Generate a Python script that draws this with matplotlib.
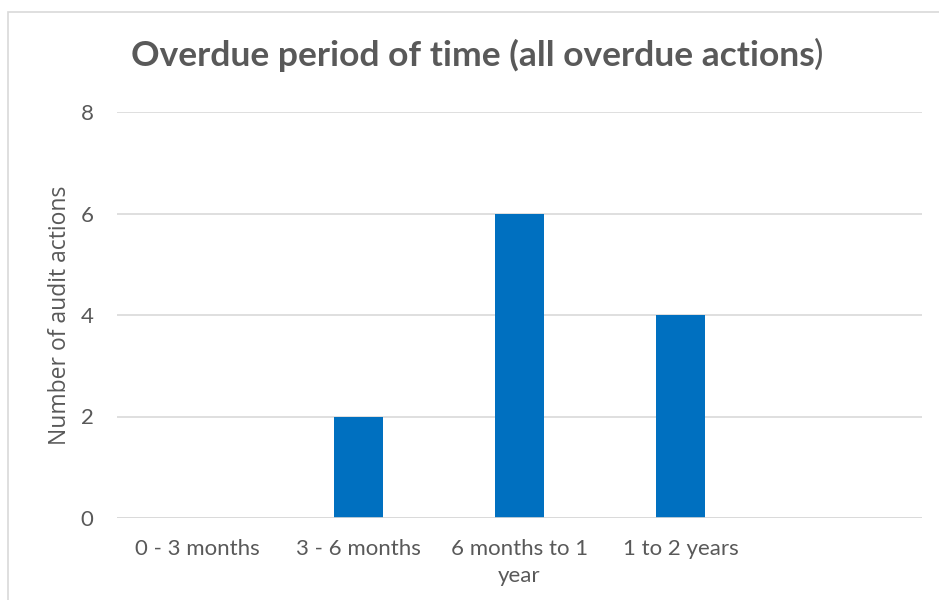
import matplotlib
matplotlib.use("Agg")
import matplotlib.pyplot as plt
from matplotlib.patches import Rectangle

categories = ["0 - 3 months", "3 - 6 months", "6 months to 1\nyear", "1 to 2 years", ""]
values = [0, 2, 6, 4, 0]
yticks = [0, 2, 4, 6, 8]

TXT = "#595959"
fig = plt.figure(figsize=(9.39, 6), dpi=100)
fig.patch.set_facecolor("white")
# chart border
fig.add_artist(Rectangle((7.5/939, -0.01), 1.0, 1 - 11.5/600 + 0.01, transform=fig.transFigure,
                         fill=False, edgecolor="#D9D9D9", linewidth=1.2))

ax = fig.add_axes([117/939, 1 - 518/600, (922 - 117)/939, (518 - 112)/600])
x = list(range(len(categories)))
ax.bar(x, values, width=0.31, color="#0070C0", zorder=3)
ax.set_xlim(-0.5, len(categories) - 0.5)
ax.set_ylim(0, 8)
ax.set_yticks(yticks)
ax.set_xticks(x)
ax.set_xticklabels(categories, fontsize=16, color=TXT, family="Lato", linespacing=1.45)
ax.set_yticklabels([str(t) for t in yticks], fontsize=16, color=TXT, family="Lato")
ax.tick_params(axis="both", length=0)
ax.tick_params(axis="x", pad=15)
ax.tick_params(axis="y", pad=17)
for s in ax.spines.values():
    s.set_visible(False)
ax.grid(axis="y", color="#D9D9D9", linewidth=1.2, zorder=0)
ax.axhline(0, color="#D9D9D9", linewidth=1.2, zorder=4)
ax.set_ylabel("Number of audit actions", fontsize=16.5, color=TXT, family="Open Sans", labelpad=6)

# title: bold text with a regular closing parenthesis
TY = 1 - 55/600
t1 = fig.text(0.5, TY, "Overdue period of time (all overdue actions", fontsize=25.5,
              fontweight="bold", color=TXT, family="Lato", ha="left", va="center")
t2 = fig.text(0.5, TY, ")", fontsize=25.5, color=TXT, family="Lato", ha="left", va="center")
fig.canvas.draw()
b1 = t1.get_window_extent()
b2 = t2.get_window_extent()
total = b1.width + b2.width
x0 = 478 - total / 2
t1.set_x(x0 / 939)
t2.set_x((x0 + b1.width - 1) / 939)

fig.savefig("out.png", dpi=100)
